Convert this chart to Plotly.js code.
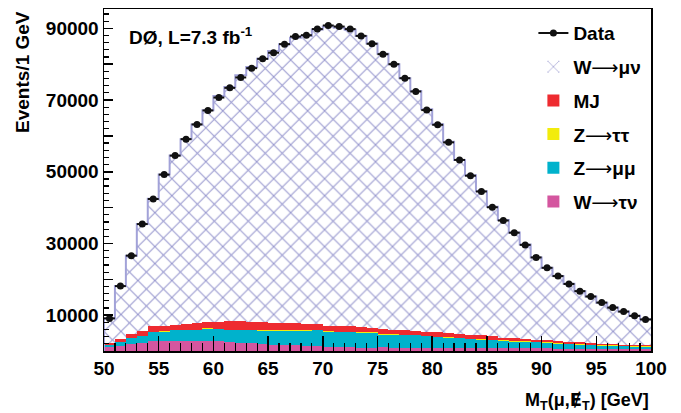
<!DOCTYPE html>
<html>
<head>
<meta charset="utf-8">
<script src="https://cdn.plot.ly/plotly-3.0.1.min.js"></script>
<style>html,body{margin:0;padding:0;background:#fff;}#chart{width:681px;height:413px;}</style>
</head>
<body>
<div id="chart"></div>
<script>
// Bin centres of M_T (GeV), 1 GeV bins
var binCenters = [50.5,51.5,52.5,53.5,54.5,55.5,56.5,57.5,58.5,59.5,
  60.5,61.5,62.5,63.5,64.5,65.5,66.5,67.5,68.5,69.5,
  70.5,71.5,72.5,73.5,74.5,75.5,76.5,77.5,78.5,79.5,
  80.5,81.5,82.5,83.5,84.5,85.5,86.5,87.5,88.5,89.5,
  90.5,91.5,92.5,93.5,94.5,95.5,96.5,97.5,98.5,99.5];

var dataEvents = [9100,18100,26600,35400,42400,49200,54500,59100,63200,67100,
  70700,73400,76300,78900,81500,83200,85600,87700,88100,89800,
  90800,90500,89800,87900,85700,82800,80000,76100,72400,67200,
  63100,58200,53300,48900,44500,40100,36400,33000,29600,26100,
  23200,20900,18700,16700,15200,13500,12100,11000,9800,8800];

var wTauNu = [1060,1260,2000,2180,2840,2840,2840,2840,2840,2840,
  2750,2460,2270,2180,2000,1730,1730,1730,1530,1530,
  1060,1060,1000,960,960,980,900,870,870,840,
  840,800,800,770,770,740,740,740,700,700,
  700,650,650,650,650,650,650,600,600,600];

var zMuMu = [640,1200,1570,1870,2410,2600,2880,2960,2960,3350,
  3250,3340,3530,3620,3700,3900,3900,3820,4020,4190,
  4290,4190,4250,4190,4100,3540,3620,3470,3470,3210,
  2960,2830,2770,2530,2430,2280,2090,1910,1860,1760,
  1570,1440,1250,1160,980,880,790,750,650,560];

var zTauTau = [30,60,100,120,150,150,150,150,150,150,
  180,180,180,180,180,180,180,180,180,180,
  180,180,180,180,180,180,150,150,150,150,
  150,150,150,150,150,150,120,120,120,120,
  120,120,120,120,120,120,120,120,120,120];

var multijet = [370,880,1130,1360,1440,1440,1440,1640,1920,1890,
  2050,2340,2440,2250,2160,2060,2060,2140,1860,1690,
  1580,1410,1410,1320,1210,1490,1230,1310,1040,1050,
  1300,1190,1080,1080,990,880,810,800,700,620,
  710,620,630,530,430,440,440,340,350,350];

var wMuNu = [7000,14700,21800,29900,35600,42200,47200,51500,55300,58900,
  62900,65300,68500,71000,73500,75800,77700,79500,80300,82100,
  83400,83300,82800,81200,79300,76700,74100,70300,67000,62200,
  58000,53400,48500,44500,40200,36200,32800,29500,26300,22900,
  20100,18100,16100,14200,13000,11400,10100,9200,8100,7200];

var xTickVals = [50,55,60,65,70,75,80,85,90,95,100];
var yTickVals = [10000,20000,30000,40000,50000,60000,70000,80000,90000];
var yTickText = ['10000',' ','30000',' ','50000',' ','70000',' ','90000'];

var FONT = 'Liberation Sans, Arial, Helvetica, sans-serif';
var cMag = '#d4569f', cCyan = '#00b2cc', cYel = '#f2ec0c', cRed = '#ee2b30', cLav = '#a2a2d8';
var ARROW = '<span style="font-family:DejaVu Sans;font-weight:normal">\u27f6</span>';

// total predicted stack for the outline
var total = binCenters.map(function(_, i){ return wTauNu[i] + zMuMu[i] + zTauTau[i] + multijet[i] + wMuNu[i]; });
var edgesX = binCenters.map(function(c){ return c - 0.5; });
edgesX.push(binCenters[binCenters.length-1] + 0.5);
var edgesY = total.slice(); edgesY.push(total[total.length-1]);
edgesX.unshift(edgesX[0]); edgesY.unshift(0);

function barTrace(name, vals, color, rank){
  return {type:'bar', x:binCenters, y:vals, width:1, name:name, legendgroup:'g'+rank, legendrank:rank,
    marker:{color:color, line:{width:0}}, hoverinfo:'skip'};
}

var traces = [
  barTrace('W' + ARROW + '\u03c4\u03bd', wTauNu, cMag, 6),
  barTrace('Z' + ARROW + '\u03bc\u03bc', zMuMu, cCyan, 5),
  barTrace('Z' + ARROW + '\u03c4\u03c4', zTauTau, cYel, 4),
  barTrace('MJ', multijet, cRed, 3),
  {type:'bar', x:binCenters, y:wMuNu, width:1, name:'W' + ARROW + '\u03bc\u03bd', legendgroup:'g2', legendrank:2,
    marker:{color:'white', line:{width:0},
      pattern:{shape:'x', size:12, solidity:0.16, fgcolor:'#9696ce', bgcolor:'white', fillmode:'replace'}}},
  {type:'scatter', mode:'lines', x:edgesX, y:edgesY, line:{shape:'hv', color:cLav, width:2},
    showlegend:false, hoverinfo:'skip'},
  {type:'scatter', mode:'markers', x:binCenters, y:dataEvents, name:'Data', showlegend:false,
    marker:{color:'#111', size:7, symbol:'circle'},
    error_x:{type:'constant', value:0.5, width:0, thickness:2, color:'#111'}},
  {type:'scatter', mode:'lines+markers', x:[null], y:[null], name:'Data', legendgroup:'g1', legendrank:1,
    marker:{color:'#111', size:7}, line:{color:'#111', width:2}}
];

var layout = {
  width:681, height:413,
  margin:{l:104, r:30, t:9, b:62},
  paper_bgcolor:'white', plot_bgcolor:'white',
  barmode:'stack', bargap:0,
  showlegend:true,
  legend:{x:0.785, y:0.985, xanchor:'left', yanchor:'top', bgcolor:'rgba(255,255,255,0)',
    traceorder:'grouped', tracegroupgap:6, itemwidth:30,
    font:{family:FONT, size:19, color:'#000', weight:'bold'}},
  xaxis:{range:[50,100], tickvals:xTickVals, ticks:'inside', ticklen:15, tickwidth:1.5, tickcolor:'#000',
    showline:true, linecolor:'#000', linewidth:1.5, mirror:true, showgrid:false, zeroline:false,
    minor:{ticks:'inside', dtick:1, ticklen:8, tickwidth:1.2, tickcolor:'#000', showgrid:false},
    tickfont:{family:FONT, size:19, color:'#000', weight:'bold'}},
  yaxis:{range:[0,95400], tickvals:yTickVals, ticktext:yTickText, ticks:'inside', ticklen:9, tickwidth:1.5, tickcolor:'#000',
    showline:true, linecolor:'#000', linewidth:1.5, mirror:true, showgrid:false, zeroline:false,
    minor:{ticks:'inside', dtick:2000, ticklen:5, tickwidth:1.2, tickcolor:'#000', showgrid:false},
    tickfont:{family:FONT, size:19, color:'#000', weight:'bold'}},
  annotations:[
    {text:'D\u00d8, L=7.3 fb<sup>-1</sup>', xref:'paper', yref:'paper', x:0.042, y:0.92, xanchor:'left', yanchor:'middle',
      showarrow:false, font:{family:FONT, size:19, color:'#000', weight:'bold'}},
    {text:'Events/1 GeV', xref:'paper', yref:'paper', x:-0.15, y:1.0, xanchor:'center', yanchor:'top', textangle:-90,
      showarrow:false, font:{family:FONT, size:19, color:'#000', weight:'bold'}},
    {text:'M<sub>T</sub>(\u03bc,<span style="font-family:DejaVu Sans">\u0246</span><sub>T</sub>) [GeV]', xref:'paper', yref:'paper', x:1.0, y:-0.105, xanchor:'right', yanchor:'top',
      showarrow:false, font:{family:FONT, size:18, color:'#000', weight:'bold'}}
  ]
};

Plotly.newPlot('chart', traces, layout, {displayModeBar:false, staticPlot:true});
</script>
</body>
</html>
